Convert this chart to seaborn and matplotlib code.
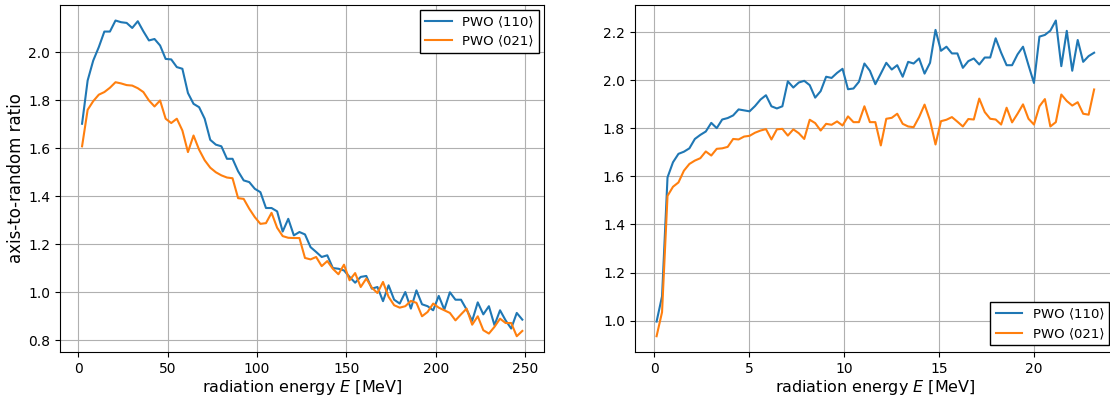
import numpy as np
import seaborn as sns
import matplotlib.pyplot as plt

# left panel: 0-250 MeV, 80 bins
energy_left = np.linspace(2.2, 248.5, 80)
pwo110_left = [1.702, 1.882, 1.965, 2.021, 2.086, 2.086, 2.132, 2.125, 2.122, 2.101,
               2.129, 2.087, 2.049, 2.055, 2.028, 1.972, 1.970, 1.938, 1.931, 1.830,
               1.785, 1.771, 1.723, 1.635, 1.615, 1.608, 1.556, 1.556, 1.504, 1.466,
               1.459, 1.431, 1.417, 1.351, 1.351, 1.337, 1.253, 1.306, 1.237, 1.251,
               1.241, 1.188, 1.168, 1.147, 1.154, 1.101, 1.098, 1.091, 1.064, 1.040,
               1.064, 1.068, 1.015, 1.022, 0.963, 1.029, 0.969, 0.953, 1.001, 0.932,
               1.008, 0.950, 0.942, 0.925, 0.985, 0.928, 1.000, 0.969, 0.969, 0.928,
               0.881, 0.958, 0.908, 0.942, 0.863, 0.925, 0.883, 0.849, 0.914, 0.886]
pwo021_left = [1.608, 1.760, 1.796, 1.823, 1.834, 1.852, 1.875, 1.870, 1.863, 1.861,
               1.850, 1.834, 1.799, 1.774, 1.799, 1.723, 1.705, 1.723, 1.674, 1.584,
               1.653, 1.594, 1.550, 1.519, 1.500, 1.487, 1.478, 1.475, 1.392, 1.389,
               1.348, 1.313, 1.285, 1.288, 1.331, 1.269, 1.234, 1.227, 1.226, 1.226,
               1.143, 1.137, 1.147, 1.109, 1.130, 1.098, 1.075, 1.115, 1.050, 1.080,
               1.022, 1.057, 1.019, 0.997, 1.043, 0.981, 0.946, 0.936, 0.942, 0.964,
               0.956, 0.900, 0.918, 0.953, 0.936, 0.925, 0.914, 0.883, 0.908, 0.932,
               0.865, 0.900, 0.842, 0.828, 0.856, 0.890, 0.872, 0.872, 0.817, 0.839]

# right panel: 0-23 MeV, 81 bins
energy_right = np.linspace(0.126, 23.16, 81)
pwo110_right = [0.996, 1.101, 1.596, 1.659, 1.694, 1.703, 1.717, 1.756, 1.773, 1.787,
                1.823, 1.801, 1.837, 1.843, 1.854, 1.879, 1.875, 1.871, 1.893, 1.920,
                1.938, 1.892, 1.883, 1.892, 1.996, 1.970, 1.991, 1.998, 1.980, 1.928,
                1.955, 2.015, 2.010, 2.031, 2.048, 1.963, 1.966, 1.994, 2.070, 2.040,
                1.984, 2.028, 2.073, 2.045, 2.063, 2.015, 2.077, 2.070, 2.091, 2.028,
                2.073, 2.210, 2.123, 2.140, 2.112, 2.112, 2.052, 2.080, 2.091, 2.066,
                2.095, 2.095, 2.175, 2.115, 2.063, 2.063, 2.108, 2.140, 2.063, 1.989,
                2.182, 2.189, 2.207, 2.249, 2.059, 2.206, 2.040, 2.168, 2.077, 2.101,
                2.115]
pwo021_right = [0.935, 1.035, 1.519, 1.557, 1.575, 1.624, 1.652, 1.666, 1.676, 1.704,
                1.687, 1.715, 1.717, 1.723, 1.756, 1.754, 1.766, 1.769, 1.782, 1.791,
                1.797, 1.754, 1.796, 1.798, 1.770, 1.796, 1.780, 1.756, 1.836, 1.822,
                1.791, 1.819, 1.815, 1.829, 1.812, 1.850, 1.826, 1.826, 1.892, 1.826,
                1.826, 1.729, 1.840, 1.844, 1.861, 1.819, 1.808, 1.805, 1.847, 1.899,
                1.833, 1.733, 1.830, 1.836, 1.847, 1.828, 1.808, 1.839, 1.837, 1.924,
                1.868, 1.840, 1.837, 1.816, 1.886, 1.825, 1.861, 1.900, 1.840, 1.816,
                1.892, 1.922, 1.808, 1.826, 1.941, 1.914, 1.895, 1.909, 1.861, 1.857,
                1.962]

labels = ["PWO \u27e8110\u27e9", "PWO \u27e8021\u27e9"]

fig = plt.figure(figsize=(11.1, 4.01), dpi=100)
ax1 = fig.add_axes([0.0541, 0.1222, 0.4363, 0.866])
ax2 = fig.add_axes([0.5718, 0.1222, 0.4336, 0.866])

sns.lineplot(x=energy_left, y=pwo110_left, label=labels[0], ax=ax1)
sns.lineplot(x=energy_left, y=pwo021_left, label=labels[1], ax=ax1)
sns.lineplot(x=energy_right, y=pwo110_right, label=labels[0], ax=ax2)
sns.lineplot(x=energy_right, y=pwo021_right, label=labels[1], ax=ax2)

for ax in (ax1, ax2):
    ax.grid(True)
    ax.set_xlabel("radiation energy $E$ [MeV]", fontsize=11.5, labelpad=2)
ax1.set_ylabel("axis-to-random ratio", fontsize=12, labelpad=2)

ax1.legend(loc="upper right", fancybox=False, edgecolor="black", framealpha=1,
           fontsize=9.5, borderaxespad=0.4)
ax2.legend(loc="lower right", fancybox=False, edgecolor="black", framealpha=1,
           fontsize=9.5)

fig.savefig("out.png", dpi=100)
